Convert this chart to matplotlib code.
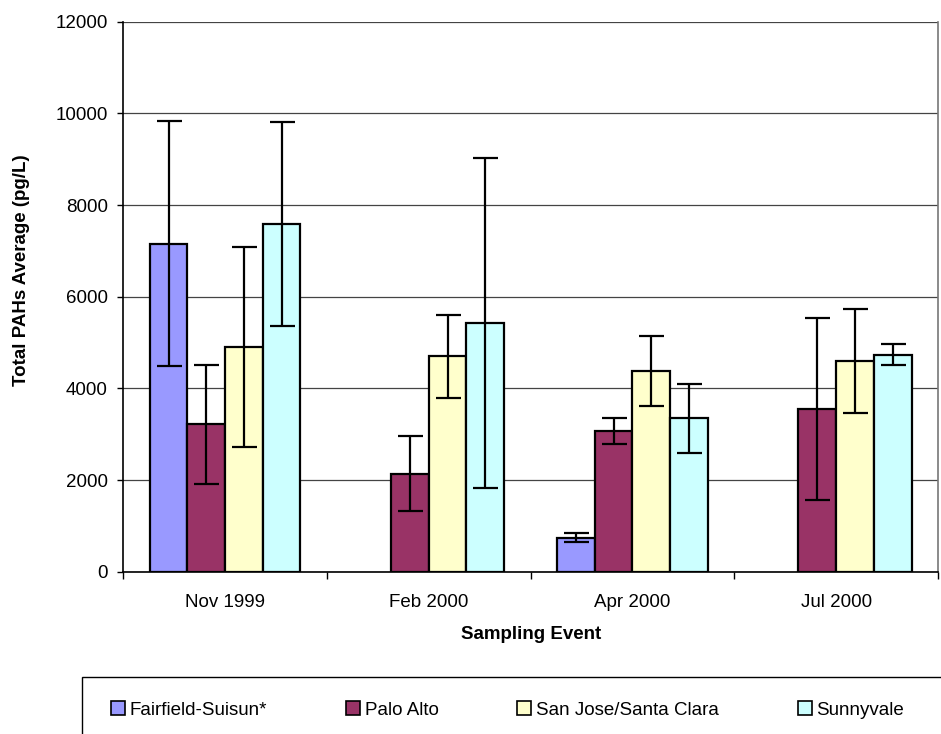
import matplotlib
matplotlib.use("Agg")
import matplotlib.pyplot as plt
import numpy as np
from matplotlib.patches import Rectangle, Patch

plt.rcParams["font.family"] = ["Liberation Sans", "DejaVu Sans"]

# data
events = ["Nov 1999", "Feb 2000", "Apr 2000", "Jul 2000"]
sites = ["Fairfield-Suisun*", "Palo Alto", "San Jose/Santa Clara", "Sunnyvale"]
colors = ["#9999FF", "#993366", "#FFFFCC", "#CCFFFF"]

fairfield = [7160, np.nan, 745, np.nan]
palo_alto = [3220, 2140, 3070, 3555]
san_jose = [4910, 4700, 4370, 4595]
sunnyvale = [7595, 5420, 3345, 4730]

fairfield_err = [2675, np.nan, 105, np.nan]
palo_alto_err = [1300, 825, 275, 1985]
san_jose_err = [2180, 910, 765, 1140]
sunnyvale_err = [2225, 3600, 745, 230]

values = [fairfield, palo_alto, san_jose, sunnyvale]
errors = [fairfield_err, palo_alto_err, san_jose_err, sunnyvale_err]

yticks = [0, 2000, 4000, 6000, 8000, 10000, 12000]

fig = plt.figure(figsize=(9.41, 7.34), dpi=100)
ax = fig.add_axes([0.131, 0.2211, 0.8658, 0.7493])

x = np.arange(len(events))
w = 0.185
for i in range(len(sites)):
    pos = x + (i - 1.5) * w
    ax.bar(pos, values[i], width=w, color=colors[i], edgecolor="black",
           linewidth=1.6, zorder=3)
    ax.errorbar(pos, values[i], yerr=errors[i], fmt="none", ecolor="black",
                elinewidth=1.6, capsize=9, capthick=1.6, zorder=4)

ax.set_xlim(-0.5, 3.5)
ax.set_ylim(0, 12000)
ax.set_yticks(yticks)
ax.set_yticklabels([str(t) for t in yticks])
ax.grid(axis="y", color="#444444", linewidth=0.9, zorder=0)

# ticks between groups, labels in the middle
ax.set_xticks(np.arange(-0.5, 4, 1))
ax.set_xticklabels([""] * 5)
ax.set_xticks(x, minor=True)
ax.set_xticklabels(events, minor=True)
ax.tick_params(axis="x", which="major", length=5, width=1, direction="out")
ax.tick_params(axis="x", which="minor", length=0, pad=16, labelsize=13.5)
ax.tick_params(axis="y", length=4, width=1, pad=7, labelsize=13.5)

for s in ["left", "bottom"]:
    ax.spines[s].set_linewidth(1.2)
ax.spines["top"].set_visible(False)
ax.spines["right"].set_color("#777777")
ax.spines["right"].set_linewidth(1.2)

ax.set_xlabel("Sampling Event", fontsize=13.5, fontweight="bold")
ax.xaxis.set_label_coords(0.5, -0.099)
ax.set_ylabel("Total PAHs Average (pg/L)", fontsize=13.5, fontweight="bold")
ax.yaxis.set_label_coords(-0.115, 0.5485)

# legend box running off the bottom right of the image
fig.add_artist(Rectangle((82 / 941, -0.05), 1.0, 0.0777 + 0.05,
                         transform=fig.transFigure, fill=False,
                         edgecolor="black", linewidth=1))
handles = [Patch(facecolor=c, edgecolor="black", linewidth=1.2) for c in colors]
fig.legend(handles, sites, loc="center left",
           bbox_to_anchor=(111 / 941, 1 - 710 / 734), ncol=4, frameon=False,
           fontsize=13.5, handlelength=0.75, handleheight=0.75,
           handletextpad=0.25, columnspacing=4.2, borderpad=0,
           borderaxespad=0)

fig.savefig("out.png", dpi=100)
